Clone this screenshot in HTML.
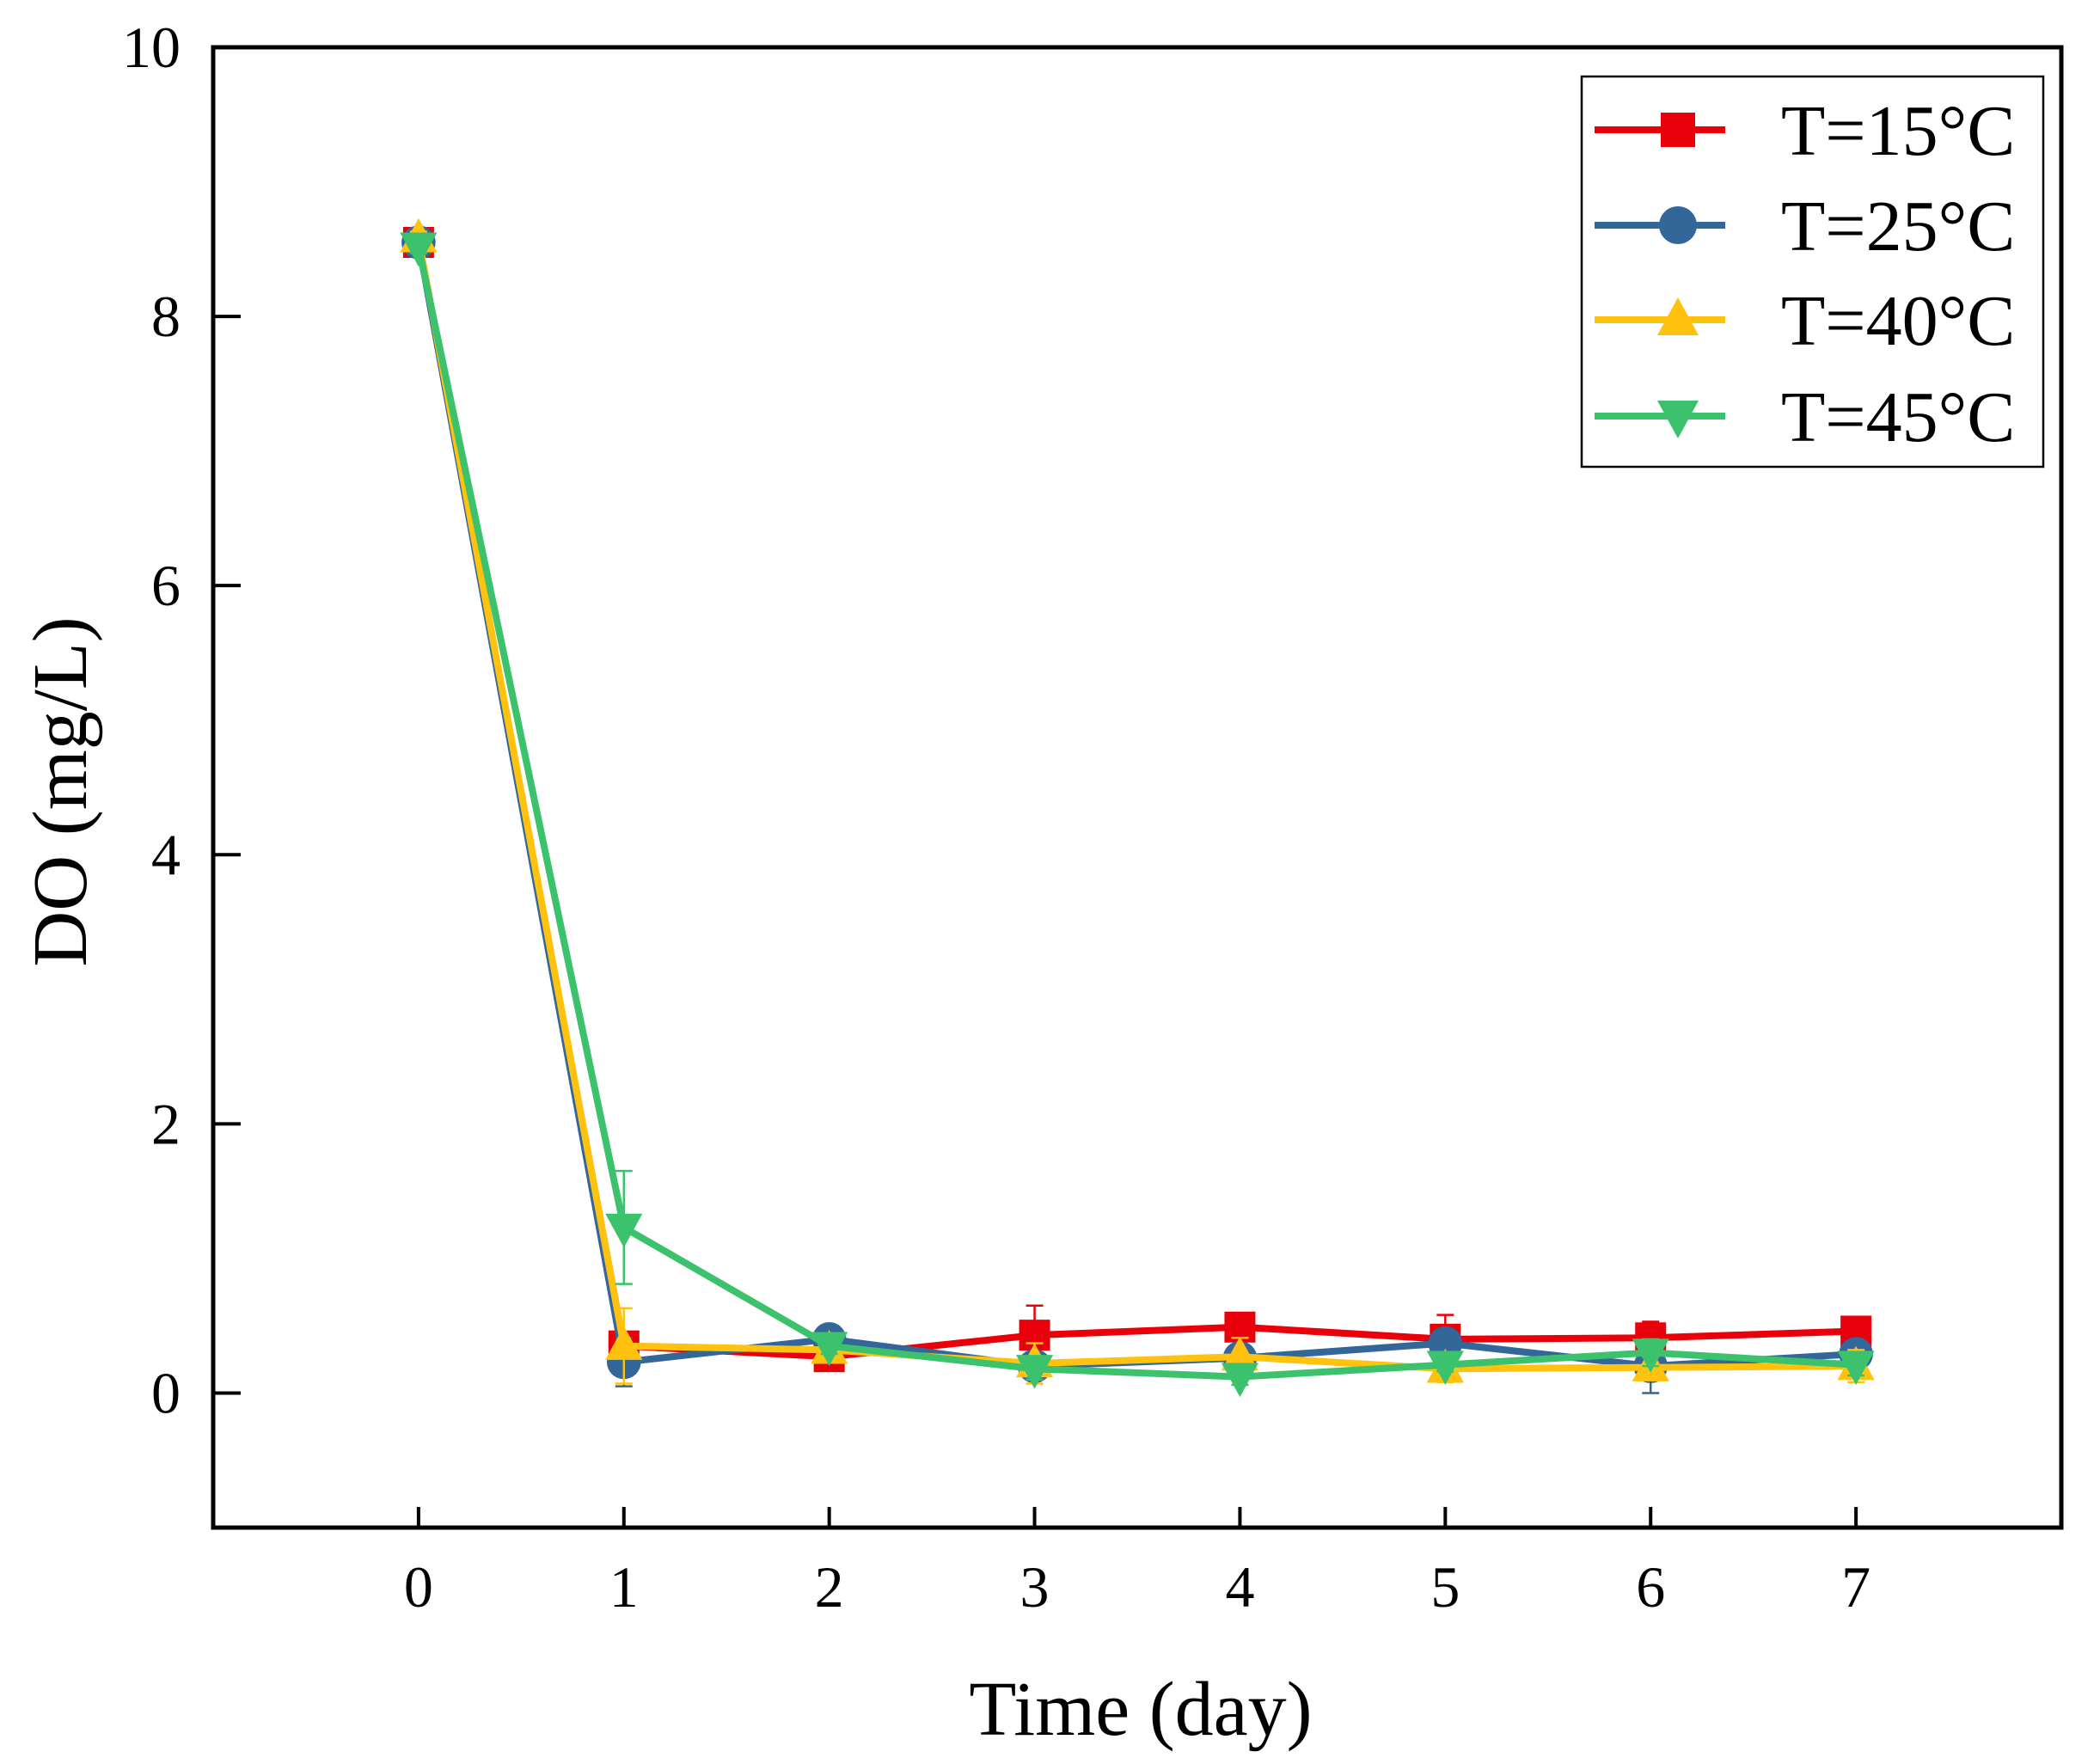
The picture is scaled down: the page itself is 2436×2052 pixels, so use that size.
<!DOCTYPE html>
<html><head><meta charset="utf-8">
<style>html,body{margin:0;padding:0;background:#fff;}svg{display:block;font-family:"Liberation Serif",serif;}</style>
</head><body>
<svg id="chart" width="2436" height="2052" viewBox="0 0 2436 2052" xmlns="http://www.w3.org/2000/svg"></svg>
<script>
const days = [0,1,2,3,4,5,6,7];
const seriesNames = ["T=15°C","T=25°C","T=40°C","T=45°C"];
const s15 = [8.55,0.35,0.27,0.43,0.49,0.40,0.41,0.46];
const s25 = [8.55,0.23,0.40,0.20,0.26,0.37,0.20,0.29];
const s40 = [8.58,0.35,0.32,0.22,0.27,0.18,0.19,0.20];
const s45 = [8.52,1.23,0.35,0.18,0.12,0.21,0.30,0.21];
const e15 = [0.05,0.08,0.05,0.22,0.08,0.18,0.12,0.05];
const e25 = [0.05,0.18,0.06,0.10,0.10,0.05,0.20,0.08];
const e40 = [0.05,0.28,0.06,0.15,0.14,0.10,0.08,0.12];
const e45 = [0.05,0.42,0.06,0.08,0.06,0.05,0.10,0.08];
const xTicks = [0,1,2,3,4,5,6,7];
const yTicks = [0,2,4,6,8,10];

const NS="http://www.w3.org/2000/svg";
const svg=document.getElementById('chart');
const L=248,R=2398,T=55,B=1777;
const x=v=>L+(v+1)/9*(R-L);
const y=v=>B-(v+1)/11*(B-T);
function mk(tag,at,parent){const e=document.createElementNS(NS,tag);for(const k in at)e.setAttribute(k,at[k]);(parent||svg).appendChild(e);return e;}

xTicks.forEach(t=>{
  const g=mk('g',{});
  
  
  mk('line',{x1:x(t),x2:x(t),y1:B,y2:B-24,stroke:'#000','stroke-width':4},g);
  const tx=mk('text',{x:x(t),y:B+92,'font-size':68,'text-anchor':'middle'},g);tx.textContent=t;
});
yTicks.forEach(t=>{
  const g=mk('g',{});
  
  
  mk('line',{x1:L,x2:L+32,y1:y(t),y2:y(t),stroke:'#000','stroke-width':4},g);
  const tx=mk('text',{x:L-38,y:y(t)+23,'font-size':68,'text-anchor':'end'},g);tx.textContent=t;
});
const frame=mk('rect',{x:L,y:T,width:R-L,height:B-T,fill:'none',stroke:'#000','stroke-width':5});



const xt=mk('text',{x:1327,y:2018,'font-size':90,'text-anchor':'middle'});xt.textContent='Time (day)';


const yt=mk('text',{x:0,y:0,'font-size':90,'text-anchor':'middle',transform:'translate(100,921) rotate(-90)'});yt.textContent='DO (mg/L)';



const colors=['#e8000b','#336699','#ffc20e','#3cc26d'];
const shapes=['square','circle','up','down'];
const data=[s15,s25,s40,s45];
const errs=[e15,e25,e40,e45];
function marker(kind,cx,cy,s,c,parent){
  if(kind==='square')return mk('rect',{x:cx-s,y:cy-s,width:2*s,height:2*s,fill:c},parent);
  if(kind==='circle')return mk('circle',{cx:cx,cy:cy,r:s*1.1,fill:c},parent);
  if(kind==='up')return mk('polygon',{points:`${cx},${cy-s*1.3} ${cx-s*1.2},${cy+s*0.9} ${cx+s*1.2},${cy+s*0.9}`,fill:c},parent);
  return mk('polygon',{points:`${cx},${cy+s*1.3} ${cx-s*1.2},${cy-s*0.9} ${cx+s*1.2},${cy-s*0.9}`,fill:c},parent);
}
data.forEach((arr,i)=>{
  const g=mk('g',{});
  
  
  arr.forEach((v,j)=>{
    const eb=mk('g',{stroke:colors[i],'stroke-width':2.5},g);
    
    
    const xe=x(days[j]);
    mk('line',{x1:xe,x2:xe,y1:y(v-errs[i][j]),y2:y(v+errs[i][j])},eb);
    mk('line',{x1:xe-10,x2:xe+10,y1:y(v-errs[i][j]),y2:y(v-errs[i][j])},eb);
    mk('line',{x1:xe-10,x2:xe+10,y1:y(v+errs[i][j]),y2:y(v+errs[i][j])},eb);
  });
  const pl=mk('polyline',{points:arr.map((v,j)=>x(days[j])+','+y(v)).join(' '),fill:'none',stroke:colors[i],'stroke-width':8,'stroke-linejoin':'round'},g);
  
  
  arr.forEach((v,j)=>{
    const m=marker(shapes[i],x(days[j]),y(v),18,colors[i],g);
    
    
  });
});

const lg=mk('g',{});


mk('rect',{x:1840,y:89,width:537,height:454,fill:'#fff',stroke:'#000','stroke-width':2.5},lg);
const ly=[151,262,372,484];
seriesNames.forEach((n,i)=>{
  const e=mk('g',{},lg);
  
  
  mk('line',{x1:1855,x2:2007,y1:ly[i],y2:ly[i],stroke:colors[i],'stroke-width':8},e);
  marker(shapes[i],1952,ly[i],20,colors[i],e);
  const t=mk('text',{x:2072,y:ly[i]+29,'font-size':84},e);t.textContent=n;
});
</script>
</body></html>
